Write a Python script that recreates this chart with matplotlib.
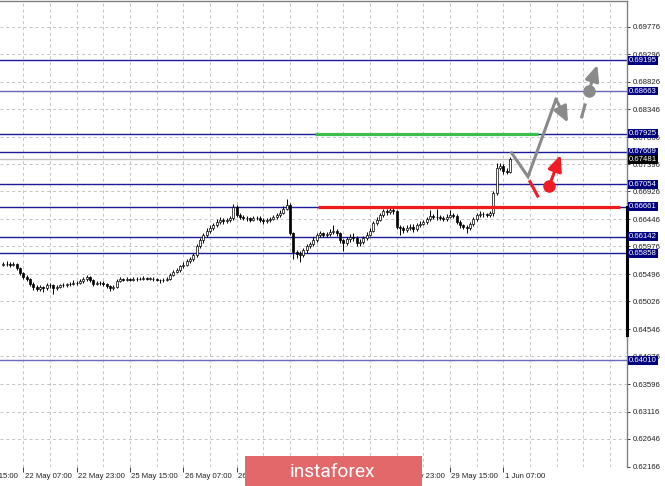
import matplotlib
matplotlib.use("Agg")
import matplotlib.pyplot as plt
from matplotlib.patches import Rectangle

# H1 bars, open = previous close
first_open = 0.6566
close = [
    0.6567, 0.6568, 0.6566, 0.6567, 0.6560, 0.6552, 0.6545, 0.6541, 0.6533, 0.6528,
    0.6524, 0.6527, 0.6525, 0.6531, 0.6530, 0.6526, 0.6528, 0.6530, 0.6531, 0.6532,
    0.6533, 0.6535, 0.6534, 0.6537, 0.6541, 0.6544, 0.6540, 0.6533, 0.6534, 0.6535,
    0.6533, 0.6529, 0.6526, 0.6527, 0.6538, 0.6541, 0.6540, 0.6541, 0.6540, 0.6542,
    0.6541, 0.6542, 0.6543, 0.6542, 0.6542, 0.6541, 0.6540, 0.6539, 0.6540, 0.6541,
    0.6549, 0.6554, 0.6557, 0.6563, 0.6566, 0.6572, 0.6575, 0.6583, 0.6598, 0.6608,
    0.6617, 0.6625, 0.6630, 0.6634, 0.6640, 0.6643, 0.6641, 0.6643, 0.6646, 0.6666,
    0.6652, 0.6649, 0.6647, 0.6646, 0.6644, 0.6646, 0.6647, 0.6643, 0.6642, 0.6643,
    0.6645, 0.6648, 0.6652, 0.6656, 0.6663, 0.6670, 0.6620, 0.6588, 0.6584, 0.6582,
    0.6591, 0.6598, 0.6602, 0.6609, 0.6617, 0.6620, 0.6618, 0.6619, 0.6622, 0.6624,
    0.6620, 0.6608, 0.6603, 0.6610, 0.6614, 0.6612, 0.6604, 0.6606, 0.6612, 0.6618,
    0.6625, 0.6638, 0.6644, 0.6652, 0.6658, 0.6657, 0.6661, 0.6658, 0.6631, 0.6629,
    0.6626, 0.6630, 0.6632, 0.6628, 0.6634, 0.6637, 0.6640, 0.6645, 0.6650, 0.6649,
    0.6648, 0.6647, 0.6645, 0.6649, 0.6652, 0.6650, 0.6640, 0.6634, 0.6632, 0.6630,
    0.6636, 0.6645, 0.6652, 0.6654, 0.6653, 0.6652, 0.6655, 0.6690, 0.6733, 0.6737,
    0.6728, 0.6727, 0.67481]
high = [
    0.6571, 0.6572, 0.6570, 0.6571, 0.6569, 0.6562, 0.6554, 0.6548, 0.6543, 0.6536,
    0.6531, 0.6530, 0.6529, 0.6535, 0.6534, 0.6533, 0.6531, 0.6533, 0.6534, 0.6535,
    0.6536, 0.6539, 0.6537, 0.6541, 0.6545, 0.6549, 0.6546, 0.6542, 0.6537, 0.6538,
    0.6537, 0.6535, 0.6531, 0.6531, 0.6541, 0.6544, 0.6543, 0.6544, 0.6543, 0.6545,
    0.6544, 0.6545, 0.6546, 0.6545, 0.6545, 0.6544, 0.6543, 0.6542, 0.6543, 0.6545,
    0.6552, 0.6557, 0.6561, 0.6566, 0.6570, 0.6575, 0.6579, 0.6587, 0.6602, 0.6612,
    0.6621, 0.6629, 0.6635, 0.6638, 0.6645, 0.6648, 0.6647, 0.6647, 0.6650, 0.6671,
    0.6669, 0.6655, 0.6652, 0.6650, 0.6649, 0.6650, 0.6651, 0.6650, 0.6646, 0.6647,
    0.6649, 0.6652, 0.6656, 0.6660, 0.6668, 0.6679, 0.6673, 0.6623, 0.6592, 0.6589,
    0.6595, 0.6601, 0.6606, 0.6613, 0.6621, 0.6624, 0.6623, 0.6623, 0.6627, 0.6634,
    0.6628, 0.6623, 0.6611, 0.6614, 0.6619, 0.6620, 0.6615, 0.6610, 0.6615, 0.6622,
    0.6629, 0.6642, 0.6648, 0.6656, 0.6663, 0.6662, 0.6666, 0.6664, 0.6661, 0.6635,
    0.6633, 0.6634, 0.6636, 0.6636, 0.6638, 0.6641, 0.6644, 0.6649, 0.6660, 0.6654,
    0.6662, 0.6652, 0.6650, 0.6653, 0.6661, 0.6656, 0.6653, 0.6643, 0.6637, 0.6635,
    0.6640, 0.6649, 0.6656, 0.6658, 0.6657, 0.6656, 0.6659, 0.6694, 0.6741, 0.6742,
    0.6740, 0.6734, 0.6752]
low = [
    0.6563, 0.6564, 0.6562, 0.6563, 0.6557, 0.6548, 0.6541, 0.6537, 0.6529, 0.6523,
    0.6520, 0.6521, 0.6519, 0.6522, 0.6526, 0.6516, 0.6523, 0.6525, 0.6527, 0.6528,
    0.6529, 0.6530, 0.6530, 0.6532, 0.6535, 0.6538, 0.6536, 0.6529, 0.6530, 0.6531,
    0.6529, 0.6525, 0.6521, 0.6522, 0.6525, 0.6536, 0.6537, 0.6538, 0.6537, 0.6538,
    0.6538, 0.6539, 0.6540, 0.6539, 0.6539, 0.6538, 0.6537, 0.6535, 0.6536, 0.6537,
    0.6539, 0.6546, 0.6551, 0.6554, 0.6560, 0.6563, 0.6569, 0.6572, 0.6580, 0.6594,
    0.6604, 0.6613, 0.6621, 0.6626, 0.6631, 0.6637, 0.6637, 0.6638, 0.6640, 0.6643,
    0.6648, 0.6645, 0.6643, 0.6642, 0.6640, 0.6641, 0.6643, 0.6639, 0.6637, 0.6638,
    0.6640, 0.6643, 0.6645, 0.6649, 0.6653, 0.6660, 0.6617, 0.6575, 0.6578, 0.6571,
    0.6579, 0.6587, 0.6594, 0.6599, 0.6606, 0.6613, 0.6613, 0.6614, 0.6616, 0.6619,
    0.6615, 0.6604, 0.6590, 0.6600, 0.6606, 0.6607, 0.6598, 0.6599, 0.6602, 0.6609,
    0.6615, 0.6622, 0.6634, 0.6641, 0.6649, 0.6652, 0.6654, 0.6654, 0.6627, 0.6618,
    0.6621, 0.6622, 0.6626, 0.6623, 0.6625, 0.6631, 0.6634, 0.6637, 0.6642, 0.6645,
    0.6644, 0.6643, 0.6641, 0.6642, 0.6646, 0.6646, 0.6636, 0.6630, 0.6627, 0.6620,
    0.6626, 0.6633, 0.6642, 0.6649, 0.6649, 0.6648, 0.6648, 0.6651, 0.6686, 0.6729,
    0.6722, 0.6722, 0.6724]

# price levels drawn as horizontal lines with boxed labels
levels = [0.69195, 0.68663, 0.67925, 0.67609, 0.67054, 0.66661, 0.66142, 0.65858, 0.64010]
light_levels = [0.68663, 0.64010]
bid = 0.67481

yticks = [0.62166, 0.62646, 0.63116, 0.63596, 0.64076, 0.64546, 0.65026, 0.65496,
          0.65976, 0.66446, 0.66926, 0.67396, 0.67866, 0.68346, 0.68826, 0.69296, 0.69776]
xtick_bars = [-10, 6, 22, 38, 54, 70, 118, 134, 150]
xtick_labels = ["21 May 15:00", "22 May 07:00", "22 May 23:00", "25 May 15:00",
                "26 May 07:00", "26 May 23:00", "28 May 23:00", "29 May 15:00", "1 Jun 07:00"]

# forecast sketch (bar index, price)
green_seg = ([93.5, 160.4], 0.67925)
red_seg = ([94.4, 185.0], 0.66661)
gray_path_x = [152.5, 157.4, 165.8]
gray_path_y = [0.67592, 0.67182, 0.68520]
gray_arrow_end = (169.4, 0.68116)
gray_dash = ([173.5, 174.5], [0.68216, 0.68422])
gray_dot = (175.7, 0.68669)
gray_up_end = (178.2, 0.69114)
red_dash = ([158.0, 160.3], [0.67095, 0.66848])
red_dot = (163.8, 0.67026)
red_up_end = (167.2, 0.67557)

W, H = 665, 486
fig = plt.figure(figsize=(W / 100, H / 100), dpi=100)
ax = fig.add_axes([0, (H - 467) / H, 627 / W, 466 / H])

grid_kw = dict(color="#c4c4c4", lw=0.7, linestyle=(0, (3, 3)), zorder=0)
for gx in range(-2, 190, 8):
    ax.axvline(gx, **grid_kw)
for gy in yticks:
    ax.axhline(gy, **grid_kw)

# candles
opens = [first_open] + close[:-1]
for i, (o, c, h, l) in enumerate(zip(opens, close, high, low)):
    ax.vlines(i, l, h, color="black", lw=0.7, zorder=3)
    bottom = min(o, c)
    height = max(abs(c - o), 0.00004)
    ax.bar(i, height, bottom=bottom, width=0.62, color="white" if c >= o else "black",
           edgecolor="black", lw=0.5, zorder=4)

# level lines
for lv in levels:
    col = "#6a6ab8" if lv in light_levels else "#1c1c9a"
    ax.axhline(lv, color=col, lw=1.0, zorder=2)
ax.axhline(bid, color="#c0c0c0", lw=1.0, zorder=2)

# green / red zones
ax.plot(green_seg[0], [green_seg[1]] * 2, color="#3cbf4a", lw=2.3, zorder=5, solid_capstyle="butt")
ax.plot(red_seg[0], [red_seg[1]] * 2, color="#f01c1c", lw=2.3, zorder=5, solid_capstyle="butt")

gray = "#8a8a8a"
red = "#ee1c24"
head = "-|>,head_length=0.95,head_width=0.42"
ax.plot(gray_path_x, gray_path_y, color=gray, lw=2.2, zorder=6, solid_joinstyle="miter")
ax.annotate("", xy=gray_arrow_end, xytext=(gray_path_x[-1], gray_path_y[-1]),
            arrowprops=dict(arrowstyle=head, color=gray, lw=2.2, shrinkA=0, shrinkB=0), zorder=6)
ax.plot(gray_dash[0], gray_dash[1], color=gray, lw=2.2, zorder=6)
ax.annotate("", xy=gray_up_end, xytext=gray_dot,
            arrowprops=dict(arrowstyle=head, color=gray, lw=2.2, shrinkA=0, shrinkB=0), zorder=6)
ax.plot(*gray_dot, "o", ms=8, color=gray, zorder=7)

ax.plot(red_dash[0], red_dash[1], color=red, lw=2.2, zorder=6)
ax.annotate("", xy=red_up_end, xytext=red_dot,
            arrowprops=dict(arrowstyle=head, color=red, lw=2.2, shrinkA=0, shrinkB=0), zorder=6)
ax.plot(*red_dot, "o", ms=8, color=red, zorder=7)

# frame
for s in ["left", "bottom"]:
    ax.spines[s].set_visible(False)
for s in ["top", "right"]:
    ax.spines[s].set_color("#808080")
    ax.spines[s].set_linewidth(1.0)
ax.plot([1.0, 1.0], [0.66661, 0.64440], transform=ax.get_yaxis_transform(),
        color="black", lw=2.2, clip_on=False, zorder=8)

# y axis
lab_font = ["Liberation Sans", "DejaVu Sans"]
ax.yaxis.tick_right()
ax.set_yticks(yticks)
ax.set_yticklabels([f"{t:.5f}" for t in yticks], fontsize=5.6, family=lab_font, color="#202020")
ax.tick_params(axis="y", length=2.5, width=0.7, color="#404040", pad=1.5)

for lv in levels + [bid]:
    fc = "black" if lv == bid else "#00007e"
    ax.text(1.0 + 2 / 627, lv, f"{lv:.5f}", transform=ax.get_yaxis_transform(),
            ha="left", va="center", fontsize=5.6, family=lab_font, color="white",
            bbox=dict(boxstyle="square,pad=0.12", fc=fc, ec="none"), zorder=9, clip_on=False)

# x axis: tick marks + left-aligned labels (first one runs off the left edge)
ax.set_xticks(xtick_bars[1:])
ax.set_xticklabels([])
ax.tick_params(axis="x", length=3.5, width=0.7, color="#404040", direction="out")
for xb, txt in zip(xtick_bars, xtick_labels):
    ax.annotate(txt, xy=(xb, 0), xycoords=("data", "axes fraction"), xytext=(1, -4.5),
                textcoords="offset points", ha="left", va="top", fontsize=5.6,
                family=["Liberation Sans Narrow", "Liberation Sans"], color="#202020",
                annotation_clip=False)

ax.set_xlim(-1, 627 / 3.3333 - 1)
ax.set_ylim(0.62161, 0.70220)

# logo
fig.patches.append(Rectangle((245 / W, 0), (422 - 245) / W, 30 / H, transform=fig.transFigure,
                             facecolor="#e2686a", edgecolor="none", zorder=10))
fig.text(290 / W, 9.5 / H, "instaforex", color="white", fontsize=13.8, family=["Roboto", "DejaVu Sans"],
         ha="left", va="baseline", zorder=11)

fig.savefig("out.png", dpi=100)
